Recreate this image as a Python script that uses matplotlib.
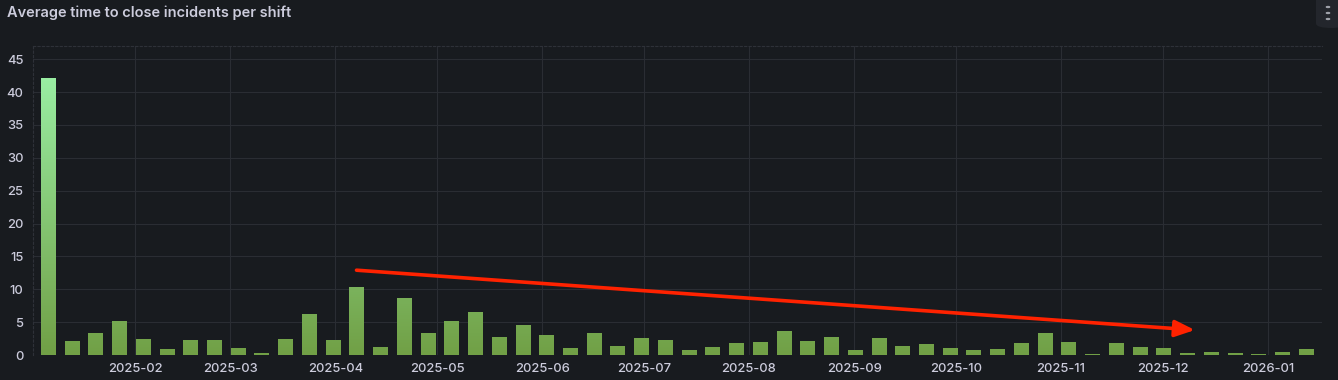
import datetime as dt

import matplotlib.dates as mdates
import matplotlib.pyplot as plt
import numpy as np
from matplotlib.colors import LinearSegmentedColormap
from matplotlib.patches import FancyBboxPatch

plt.rcParams["font.family"] = ["Inter", "DejaVu Sans"]

# weekly buckets, first one on 2025-01-06
start_week = dt.datetime(2025, 1, 6, 6)
avg_close_time = [
    42.0, 2.1, 3.3, 5.1, 2.4, 0.9, 2.2, 2.2, 1.0, 0.25,
    2.4, 6.1, 2.2, 10.3, 1.15, 8.6, 3.3, 5.1, 6.4, 2.6,
    4.5, 3.0, 1.05, 3.2, 1.3, 2.5, 2.2, 0.75, 1.2, 1.7,
    1.9, 3.5, 2.1, 2.6, 0.7, 2.5, 1.3, 1.6, 1.05, 0.75,
    0.85, 1.8, 3.3, 1.9, 0.15, 1.7, 1.15, 1.05, 0.25, 0.4,
    0.2, 0.15, 0.4, 0.85,
]
weeks = [start_week + dt.timedelta(weeks=i) for i in range(len(avg_close_time))]

# trend arrow drawn on top of the panel
arrow_start = (dt.datetime(2025, 4, 7, 6), 12.9)
arrow_end = (dt.datetime(2025, 12, 10, 12), 3.8)

title = "Average time to close incidents per shift"

bg = "#181b1f"
text_col = "#ccccdc"
grid_col = "#2a2d33"

fig = plt.figure(figsize=(13.38, 3.8), dpi=100, facecolor=bg)
ax = fig.add_axes([33 / 1338, 25 / 380, (1322 - 33) / 1338, (355 - 46) / 380])
ax.set_facecolor(bg)

cmap = LinearSegmentedColormap.from_list("grad", ["#71a046", "#99eda2"])
vmax = max(avg_close_time)
bar_w = 4.2  # days
xs = mdates.date2num(weeks)
for x, h in zip(xs, avg_close_time):
    grad = np.linspace(h / vmax, 0, 64).reshape(-1, 1)
    ax.imshow(
        grad,
        cmap=cmap,
        vmin=0,
        vmax=1,
        aspect="auto",
        extent=[x - bar_w / 2, x + bar_w / 2, 0, h],
        interpolation="bilinear",
        zorder=2,
    )

ax.set_xlim(mdates.date2num(dt.datetime(2025, 1, 1, 20)),
            mdates.date2num(dt.datetime(2026, 1, 17, 0)))
ax.set_ylim(0, 47)

ax.xaxis.set_major_locator(mdates.MonthLocator())
ax.xaxis.set_major_formatter(mdates.DateFormatter("%Y-%m"))
ax.set_yticks(np.arange(0, 50, 5))
ax.tick_params(axis="both", length=0, colors=text_col, labelsize=9.3)
ax.tick_params(axis="x", pad=6)
ax.tick_params(axis="y", pad=7)
for lbl in ax.get_xticklabels() + ax.get_yticklabels():
    lbl.set_fontweight("medium")

ax.grid(True, color=grid_col, linewidth=0.8, zorder=0)
for side in ["right", "bottom"]:
    ax.spines[side].set_visible(False)
for side in ["left", "top"]:
    ax.spines[side].set_color("#2e3138")
    ax.spines[side].set_linestyle((0, (2, 2)))
    ax.spines[side].set_linewidth(0.8)

ax.annotate(
    "",
    xy=(mdates.date2num(arrow_end[0]), arrow_end[1]),
    xytext=(mdates.date2num(arrow_start[0]), arrow_start[1]),
    arrowprops=dict(arrowstyle="-|>,head_length=1.2,head_width=0.5",
                    color="#ff2200", lw=2.6, shrinkA=0, shrinkB=0),
    zorder=5,
)

fig.text(7 / 1338, 1 - 13 / 380, title, color=text_col, fontsize=10.5,
         fontweight="semibold", va="center", ha="left")

# panel menu button in the top right corner
fig.patches.append(FancyBboxPatch((1316 / 1338, 1 - 28 / 380), 30 / 1338, 40 / 380,
                                  boxstyle="round,pad=0,rounding_size=0.012",
                                  transform=fig.transFigure, facecolor="#23262c",
                                  edgecolor="none"))
for yy in (7, 13, 19):
    fig.patches.append(plt.Circle((1328 / 1338, 1 - yy / 380), 1.6 / 1338,
                                  transform=fig.transFigure, color="#9fa2aa"))

fig.savefig("out.png", dpi=100, facecolor=bg)
